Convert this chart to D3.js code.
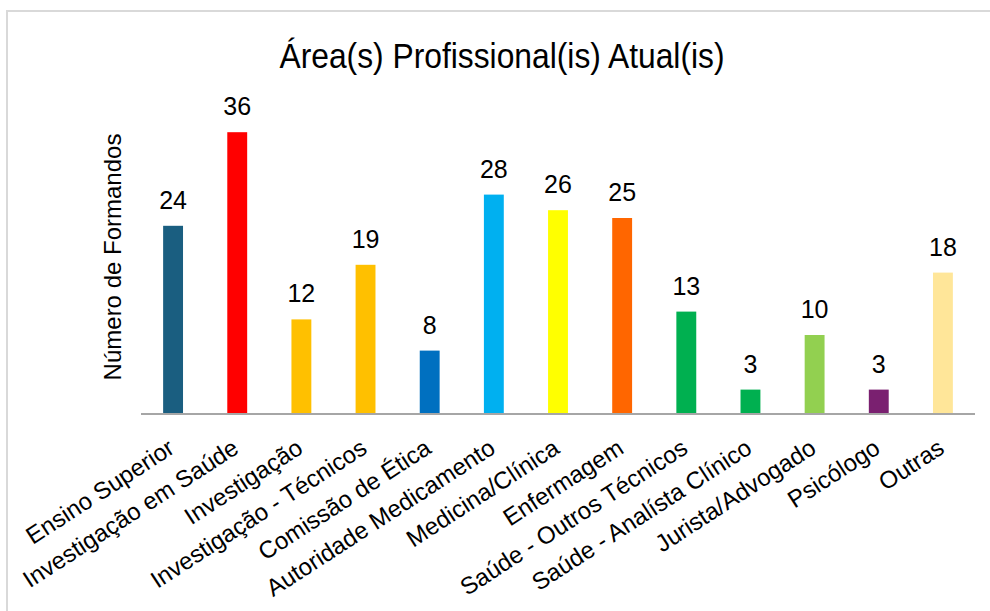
<!DOCTYPE html>
<html>
<head>
<meta charset="utf-8">
<script src="https://cdn.jsdelivr.net/npm/d3@7"></script>
<style>
  body { margin: 0; background: #fff; }
  text { font-family: "Liberation Sans", Arial, sans-serif; fill: #000; }
</style>
</head>
<body>
<div id="chart"></div>
<script>
// dados
var categories = ["Ensino Superior", "Investigação em Saúde", "Investigação",
  "Investigação - Técnicos", "Comissão de Ética", "Autoridade Medicamento",
  "Medicina/Clínica", "Enfermagem", "Saúde - Outros Técnicos",
  "Saúde - Analísta Clínico", "Jurista/Advogado", "Psicólogo", "Outras"];
var values = [24, 36, 12, 19, 8, 28, 26, 25, 13, 3, 10, 3, 18];
var colors = ["#1a5e80", "#ff0000", "#ffc000", "#ffc000", "#0070c0", "#00b0f0",
  "#ffff00", "#ff6600", "#00b050", "#00b050", "#92d050", "#7a2070", "#ffe699"];

drawChart("#chart");

function drawChart(sel) {
  var width = 990, height = 611;

  var svg = d3.select(sel).append("svg")
    .attr("width", width)
    .attr("height", height);

  // moldura
  svg.append("rect")
    .attr("x", 7).attr("y", 11)
    .attr("width", width + 20).attr("height", height + 20)
    .attr("fill", "none")
    .attr("stroke", "#d9d9d9")
    .attr("stroke-width", 2);

  var x = d3.scaleBand()
    .domain(categories)
    .range([141, 975])
    .paddingInner(0.69)
    .paddingOuter(0.345);

  var y = d3.scaleLinear()
    .domain([0, 40])
    .range([413, 101]);

  // barras
  svg.selectAll(".bar")
    .data(values)
    .enter()
    .append("rect")
    .attr("class", "bar")
    .attr("x", (d, i) => x(categories[i]))
    .attr("y", d => y(d))
    .attr("width", x.bandwidth())
    .attr("height", d => y(0) - y(d))
    .attr("fill", (d, i) => colors[i]);

  // eixo x
  svg.append("line")
    .attr("x1", 141).attr("x2", 975)
    .attr("y1", y(0) + 1).attr("y2", y(0) + 1)
    .attr("stroke", "#a6a6a6")
    .attr("stroke-width", 2);

  // rótulos de valor
  svg.selectAll(".val")
    .data(values)
    .enter()
    .append("text")
    .attr("class", "val")
    .attr("x", (d, i) => x(categories[i]) + x.bandwidth() / 2)
    .attr("y", d => y(d) - 17)
    .attr("text-anchor", "middle")
    .style("font-size", "25px")
    .text(d => d);

  // rótulos das categorias
  svg.selectAll(".cat")
    .data(categories)
    .enter()
    .append("text")
    .attr("class", "cat")
    .attr("transform", d => "translate(" + (x(d) + x.bandwidth() / 2 + 3) + "," + (y(0) + 39) + ") rotate(-33)")
    .attr("text-anchor", "end")
    .style("font-size", "24px")
    .text(d => d);

  // título
  svg.append("text")
    .attr("x", 502).attr("y", 68)
    .attr("text-anchor", "middle")
    .attr("textLength", 445)
    .attr("lengthAdjust", "spacingAndGlyphs")
    .style("font-size", "35px")
    .text("Área(s) Profissional(is) Atual(is)");

  // título do eixo y
  svg.append("text")
    .attr("transform", "translate(121,257) rotate(-90)")
    .attr("text-anchor", "middle")
    .style("font-size", "24px")
    .text("Número de Formandos");
}
</script>
</body>
</html>
